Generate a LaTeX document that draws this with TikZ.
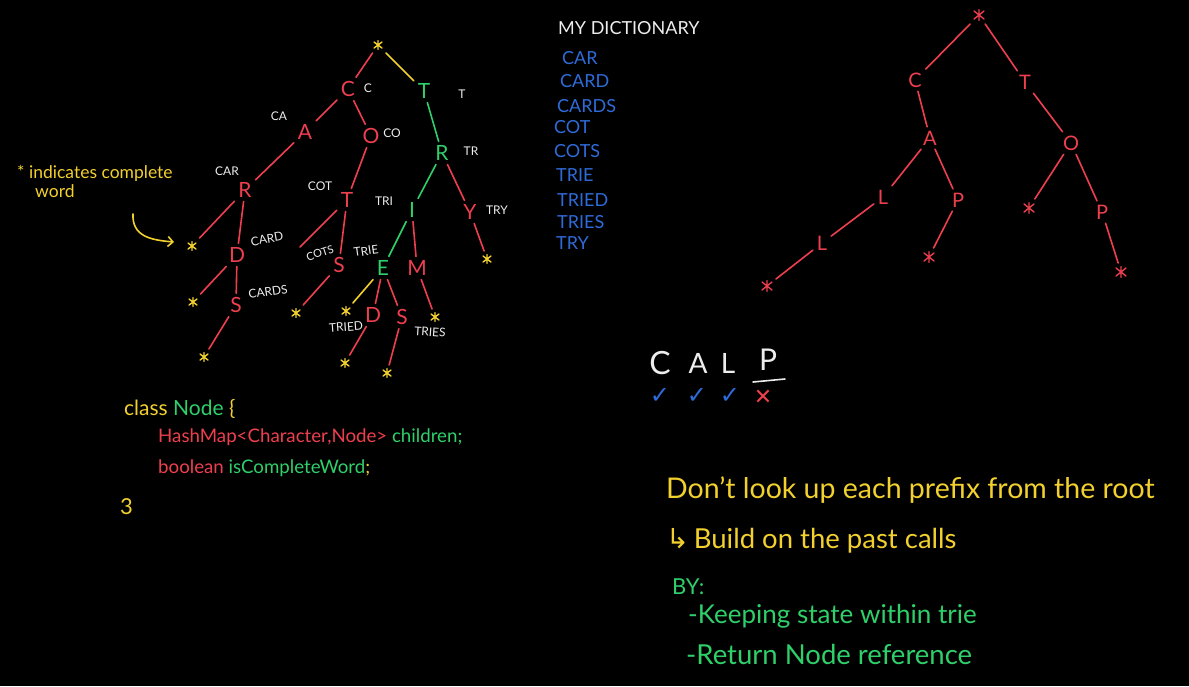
\documentclass[tikz,border=0pt]{standalone}
\usepackage{fontspec}
\setmainfont{Lato}
\newfontfamily\djv{DejaVu Sans}
\usetikzlibrary{arrows.meta}
\definecolor{cred}{HTML}{EE3F4E}
\definecolor{cyel}{HTML}{F2D02E}
\definecolor{cgrn}{HTML}{2FCF6A}
\definecolor{cblu}{HTML}{2F6BD8}
\definecolor{cwht}{HTML}{EDEDED}
\tikzset{
  ltr/.style={font=\fontsize{21}{21}\selectfont, inner sep=0pt, outer sep=4pt},
  rtr/.style={font=\fontsize{20}{20}\selectfont, inner sep=0pt, outer sep=4pt, text=cred},
  lab/.style={text=cwht, font=\fontsize{12}{12}\selectfont, inner sep=0pt},
  astk/.style={minimum size=10pt, inner sep=0pt, outer sep=3pt,
    path picture={\draw[line width=1.4pt,line cap=round,#1]
      ([yshift=-0.5pt]path picture bounding box.north) -- ([yshift=0.5pt]path picture bounding box.south)
      ([xshift=1pt,yshift=-2pt]path picture bounding box.north west) -- ([xshift=-1pt,yshift=2pt]path picture bounding box.south east)
      ([xshift=-1pt,yshift=-2pt]path picture bounding box.north east) -- ([xshift=1pt,yshift=2pt]path picture bounding box.south west);}},
  dict/.style={text=cblu, font=\fontsize{18}{18}\selectfont, anchor=west, inner sep=0pt},
  txt/.style={anchor=base west, inner sep=0pt},
  edge/.style={line width=1.6pt, line cap=round},
}
\begin{document}
\begin{tikzpicture}[x=1pt,y=-1pt]
\fill[black] (0,0) rectangle (1189,686);
\useasboundingbox (0,0) rectangle (1189,686);

% ---------- left trie ----------
\node[astk=cyel] (r) at (378,45) {};
\node[ltr,text=cred] (lc) at (348,89) {C};
\node[ltr,text=cgrn] (lt) at (424,91) {T};
\node[ltr,text=cred] (la) at (305,132) {A};
\node[ltr,text=cred] (lo) at (371,136) {O};
\node[ltr,text=cgrn] (ltrr) at (442,153) {R};
\node[ltr,text=cred] (lcar) at (245,190) {R};
\node[ltr,text=cred] (lcot) at (347,200) {T};
\node[ltr,text=cgrn] (ltri) at (412,210) {I};
\node[ltr,text=cred] (ltry) at (470,212) {Y};
\node[ltr,text=cred] (lcard) at (237,255) {D};
\node[ltr,text=cred] (lcots) at (339,265) {S};
\node[ltr,text=cgrn] (ltrie) at (383,268) {E};
\node[ltr,text=cred] (ltrim) at (417,268) {M};
\node[ltr,text=cred] (lcards) at (236,305) {S};
\node[ltr,text=cred] (ltried) at (373,315) {D};
\node[ltr,text=cred] (ltries) at (402,317) {S};
\node[astk=cyel] (s1) at (192,246) {};
\node[astk=cyel] (s2) at (487,259) {};
\node[astk=cyel] (s3) at (193,302) {};
\node[astk=cyel] (s4) at (296,313) {};
\node[astk=cyel] (s5) at (346,311) {};
\node[astk=cyel] (s6) at (435,317) {};
\node[astk=cyel] (s7) at (204,357) {};
\node[astk=cyel] (s8) at (345,363) {};
\node[astk=cyel] (s9) at (387,373) {};
\coordinate (dangle) at (300,247);

\node[lab] (lbc) at (368,88) {C};
\node[lab] (lbt) at (462,94) {T};
\node[lab] (lbca) at (279,116) {CA};
\node[lab] (lbco) at (392,133) {CO};
\node[lab] (lbtr) at (471,151) {TR};
\node[lab] (lbcar) at (227,171) {CAR};
\node[lab] (lbcot) at (320,186) {COT};
\node[lab] (lbtri) at (384,201) {TRI};
\node[lab] (lbtry) at (497,210) {TRY};
\node[lab,rotate=10] (lbcard) at (267,239) {CARD};
\node[lab,rotate=18,font=\fontsize{11}{11}\selectfont] (lbcots) at (320,253) {COTS};
\node[lab,rotate=8] (lbtrie) at (366,251) {TRIE};
\node[lab,rotate=8] (lbcards) at (268,292) {CARDS};
\node[lab,rotate=4] (lbtried) at (346,327) {TRIED};
\node[lab,rotate=-4] (lbtries) at (430,332) {TRIES};

\draw[edge,cred] (r) -- (lc);
\draw[edge,cyel] (r) -- (lt);
\draw[edge,cred] (lc) -- (la);
\draw[edge,cred] (lc) -- (lo);
\draw[edge,cgrn] (lt) -- (ltrr);
\draw[edge,cred] (la) -- (lcar);
\draw[edge,cred] (lo) -- (lcot);
\draw[edge,cgrn] (ltrr) -- (ltri);
\draw[edge,cred] (ltrr) -- (ltry);
\draw[edge,cred] (lcar) -- (s1);
\draw[edge,cred] (lcar) -- (lcard);
\draw[edge,cred] (lcot) -- (dangle);
\draw[edge,cred] (lcot) -- (lcots);
\draw[edge,cgrn] (ltri) -- (ltrie);
\draw[edge,cred] (ltri) -- (ltrim);
\draw[edge,cred] (ltry) -- (s2);
\draw[edge,cred] (lcard) -- (s3);
\draw[edge,cred] (lcard) -- (lcards);
\draw[edge,cred] (lcots) -- (s4);
\draw[edge,cyel] (ltrie) -- (s5);
\draw[edge,cred] (ltrie) -- (ltried);
\draw[edge,cred] (ltrie) -- (ltries);
\draw[edge,cred] (ltrim) -- (s6);
\draw[edge,cred] (lcards) -- (s7);
\draw[edge,cred] (ltried) -- (s8);
\draw[edge,cred] (ltries) -- (s9);

% annotation
\node[txt,text=cyel,font=\fontsize{17.5}{17.5}\selectfont] (ann1) at (17,178) {* indicates complete};
\node[txt,text=cyel,font=\fontsize{17.5}{17.5}\selectfont] (ann2) at (35,197) {word};
\coordinate (arrS) at (133,214);
\coordinate (arrE) at (174,242);
\draw[edge,cyel,-{Straight Barb[length=5pt,width=10pt]}] (arrS) .. controls (132,236) and (150,240) .. (arrE);

% ---------- dictionary ----------
\node[anchor=west,inner sep=0pt,text=cwht,font=\fontsize{18}{18}\selectfont] (dt) at (558,28) {MY DICTIONARY};
\node[dict] (d1) at (562,58) {CAR};
\node[dict] (d2) at (560,81) {CARD};
\node[dict] (d3) at (557,106) {CARDS};
\node[dict] (d4) at (554,127) {COT};
\node[dict] (d5) at (554,151) {COTS};
\node[dict] (d6) at (556,175) {TRIE};
\node[dict] (d7) at (557,200) {TRIED};
\node[dict] (d8) at (557,222) {TRIES};
\node[dict] (d9) at (556,243) {TRY};

% ---------- right trie ----------
\node[astk=cred,minimum size=12pt] (rr) at (979,15) {};
\node[rtr] (rc) at (915,80) {C};
\node[rtr] (rt) at (1025,82) {T};
\node[rtr] (ra) at (930,138) {A};
\node[rtr] (ro) at (1071,143) {O};
\node[rtr] (rl1) at (883,197) {L};
\node[rtr] (rp1) at (958,200) {P};
\node[astk=cred,minimum size=12pt] (rs1) at (1029,208) {};
\node[rtr] (rp2) at (1102,212) {P};
\node[rtr] (rl2) at (822,243) {L};
\node[astk=cred,minimum size=12pt] (rs2) at (929,257) {};
\node[astk=cred,minimum size=12pt] (rs3) at (767,286) {};
\node[astk=cred,minimum size=12pt] (rs4) at (1121,272) {};
\draw[edge,cred] (rr) -- (rc);
\draw[edge,cred] (rr) -- (rt);
\draw[edge,cred] (rc) -- (ra);
\draw[edge,cred] (rt) -- (ro);
\draw[edge,cred] (ra) -- (rl1);
\draw[edge,cred] (ra) -- (rp1);
\draw[edge,cred] (ro) -- (rs1);
\draw[edge,cred] (ro) -- (rp2);
\draw[edge,cred] (rl1) -- (rl2);
\draw[edge,cred] (rp1) -- (rs2);
\draw[edge,cred] (rl2) -- (rs3);
\draw[edge,cred] (rp2) -- (rs4);

% ---------- CALP ----------
\node[text=cwht,font=\fontsize{32}{32}\selectfont,inner sep=0pt] (kc) at (660,363) {C};
\node[text=cwht,font=\fontsize{28}{28}\selectfont,inner sep=0pt] (ka) at (698,363) {A};
\node[text=cwht,font=\fontsize{28}{28}\selectfont,inner sep=0pt] (kl) at (728,363) {L};
\node[text=cwht,font=\fontsize{30}{30}\selectfont,inner sep=0pt] (kp) at (768,360) {P};
\coordinate (u1) at (753,382);
\coordinate (u2) at (785,379);
\draw[edge,cwht] (u1) -- (u2);
\node[text=cblu,font=\djv\fontsize{24}{24}\selectfont,inner sep=0pt] (ck1) at (660,396) {✓};
\node[text=cblu,font=\djv\fontsize{24}{24}\selectfont,inner sep=0pt] (ck2) at (697,396) {✓};
\node[text=cblu,font=\djv\fontsize{24}{24}\selectfont,inner sep=0pt] (ck3) at (730,396) {✓};
\node[text=cred,font=\djv\fontsize{22}{22}\selectfont,inner sep=0pt] (ck4) at (763,397) {✕};

% ---------- code ----------
\node[txt,font=\fontsize{21}{21}\selectfont] (code1) at (124,415) {\color{cyel}class \color{cgrn}Node \color{cyel}\{};
\node[txt,font=\fontsize{18.7}{18.7}\selectfont] (code2) at (158,442) {\color{cred}HashMap<Character,Node> \color{cgrn}children;};
\node[txt,font=\fontsize{18.7}{18.7}\selectfont] (code3) at (158,473) {\color{cred}boolean \color{cgrn}isCompleteWord\color{cyel};};
\node[txt,text=cyel,font=\fontsize{22}{22}\selectfont] (code4) at (120,514) {3};

% ---------- bottom right ----------
\node[txt,text=cyel,font=\fontsize{28.5}{28.5}\selectfont] (b1) at (666,498) {Don't look up each prefix from the root};
\node[txt,text=cyel,font=\fontsize{27.5}{27.5}\selectfont] (b2) at (666,548) {{\djv ↳}\,Build on the past calls};
\node[txt,text=cgrn,font=\fontsize{22}{22}\selectfont] (b3) at (672,594) {BY:};
\node[txt,text=cgrn,font=\fontsize{26}{26}\selectfont] (b4) at (688,623) {-Keeping state within trie};
\node[txt,text=cgrn,font=\fontsize{27.5}{27.5}\selectfont] (b5) at (686,664) {-Return Node reference};
\end{tikzpicture}
\end{document}
